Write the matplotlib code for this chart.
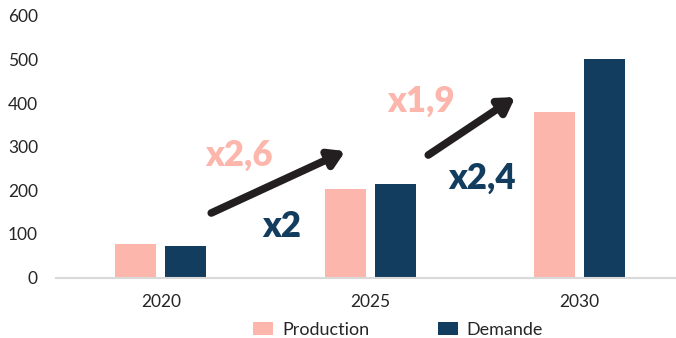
import matplotlib
matplotlib.use("Agg")
import matplotlib.pyplot as plt
import numpy as np

plt.rcParams['font.family'] = ['Lato', 'DejaVu Sans']

years = ["2020", "2025", "2030"]
production = [78, 202, 380]
demande = [73, 215, 502]
series_names = ["Production", "Demande"]
growth_labels = ["x2,6", "x2", "x1,9", "x2,4"]

c_prod = "#FDB6AC"
c_dem = "#133D5E"
c_arrow = "#231F20"

fig = plt.figure(figsize=(6.76, 3.38), dpi=100)
ax = fig.add_axes([56/676, 1 - 277.5/338, 620/676, (277.5 - 16)/338])

x = np.arange(len(years))
w = 0.196
off = 0.119
ax.bar(x - off, production, w, color=c_prod, label=series_names[0])
ax.bar(x + off, demande, w, color=c_dem, label=series_names[1])

ax.set_xlim(-0.5, -0.5 + 620/209.5)
ax.set_ylim(0, 600)
ax.set_yticks(range(0, 601, 100))
ax.set_xticks(x)
ax.set_xticklabels(years)

for s in ["top", "right", "left"]:
    ax.spines[s].set_visible(False)
ax.spines["bottom"].set_color("#D9D9D9")
ax.spines["bottom"].set_linewidth(1.5)
ax.tick_params(axis="both", length=0, labelsize=12.5, colors="#262626")
ax.tick_params(axis="y", pad=13)
ax.tick_params(axis="x", pad=12)

# arrows
arrow_kw = dict(arrowstyle="-|>,head_length=0.9,head_width=0.55", color=c_arrow, lw=5.5,
                shrinkA=0, shrinkB=0)
ax.annotate("", xy=(0.881, 290), xytext=(0.241, 148), arrowprops=arrow_kw)
ax.annotate("", xy=(1.692, 414), xytext=(1.277, 281), arrowprops=arrow_kw)

# growth labels
tk = dict(fontsize=25, fontweight="heavy", ha="center", va="center")
ax.text(0.375, 281, growth_labels[0], color=c_prod, **tk)
ax.text(0.575, 118, growth_labels[1], color=c_dem, **tk)
ax.text(1.243, 405, growth_labels[2], color=c_prod, **tk)
ax.text(1.535, 228, growth_labels[3], color=c_dem, **tk)

fig.legend(loc="center", bbox_to_anchor=(398/676, 1 - 330/338), ncol=2, frameon=False,
           fontsize=13, handlelength=1.1, handleheight=0.75, columnspacing=3.8,
           handletextpad=0.5, labelcolor="#262626")

fig.savefig("out.png", dpi=100)
